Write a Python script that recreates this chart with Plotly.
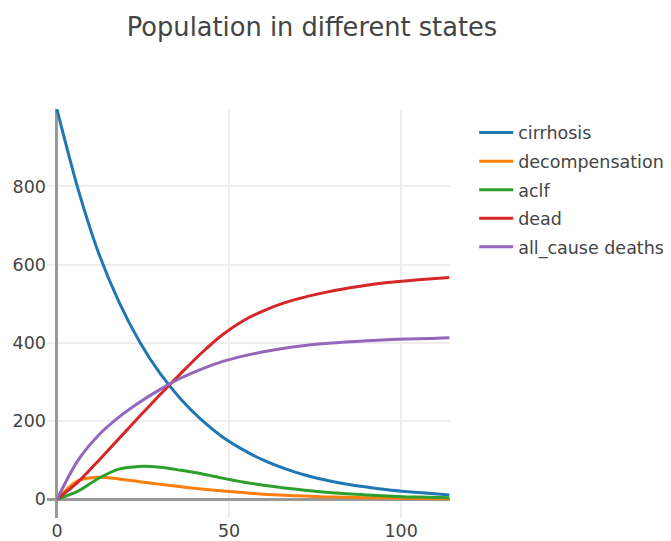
import plotly.graph_objects as go

t = [0, 6, 12, 18, 24, 30, 36, 42, 48, 54, 60, 66, 72, 78, 84, 90, 96, 102, 108, 114]
cirrhosis = [997, 797, 632, 505, 403, 321, 256, 203, 160, 127, 100, 79, 62, 49, 39, 31, 24, 19, 15, 11]
decompensation = [0, 47, 56, 52, 45, 38, 32, 26, 21, 17, 13, 10, 8, 6, 5, 4, 3, 2, 2, 1]
aclf = [0, 20, 53, 77, 84, 82, 74, 65, 54, 44, 36, 29, 23, 18, 14, 11, 8, 6, 5, 4]
dead = [0, 43, 98, 155, 212, 268, 322, 374, 420, 456, 482, 502, 517, 529, 539, 547, 554, 559, 563, 567]
all_cause = [0, 98, 163, 210, 248, 281, 310, 333, 352, 366, 377, 386, 393, 398, 402, 405, 408, 410, 411, 413]

names = ["cirrhosis", "decompensation", "aclf", "dead", "all_cause deaths"]
series = [cirrhosis, decompensation, aclf, dead, all_cause]
colors = ["#1f77b4", "#ff7f0e", "#2ca02c", "#d62728", "#9467bd"]

FONT = "DejaVu Sans, Verdana, sans-serif"

fig = go.Figure()
for n, s, c in zip(names, series, colors):
    fig.add_trace(go.Scatter(x=t, y=s, mode="lines", name=n, legendgroup=n,
                             line=dict(color=c, width=3, shape="spline", smoothing=0.8)))

# page body has an 8px margin, so the figure is sized to fit the 671x541 window
fig.update_layout(
    width=663, height=533,
    margin=dict(l=39, r=221, t=101, b=23, autoexpand=False),
    paper_bgcolor="white", plot_bgcolor="white",
    font=dict(family=FONT, size=17.5, color="#444"),
    title=dict(text="Population in different states", x=0.4585, xref="container",
               xanchor="center", y=1 - 19 / 533, yref="container", yanchor="middle",
               font=dict(family=FONT, size=25.7, color="#444")),
    xaxis=dict(range=[-2.9, 114.2], dtick=50, tick0=0, showgrid=True, gridcolor="#eeeeee",
               gridwidth=1.5, zeroline=True, zerolinecolor="#999999", zerolinewidth=2.5,
               showline=False, ticks="", automargin=False,
               tickfont=dict(size=17.5, color="#444")),
    yaxis=dict(range=[-48, 998], dtick=200, tick0=0, showgrid=True, gridcolor="#eeeeee",
               gridwidth=1.5, zeroline=True, zerolinecolor="#999999", zerolinewidth=2.5,
               showline=False, ticks="", automargin=False,
               tickfont=dict(size=17.5, color="#444")),
    legend=dict(x=1.06, xanchor="left", y=0.986, yanchor="top", itemwidth=34,
                tracegroupgap=2.8, font=dict(family=FONT, size=17.5, color="#444"),
                bgcolor="rgba(0,0,0,0)"),
    showlegend=True,
)

fig.write_html("out.html")
